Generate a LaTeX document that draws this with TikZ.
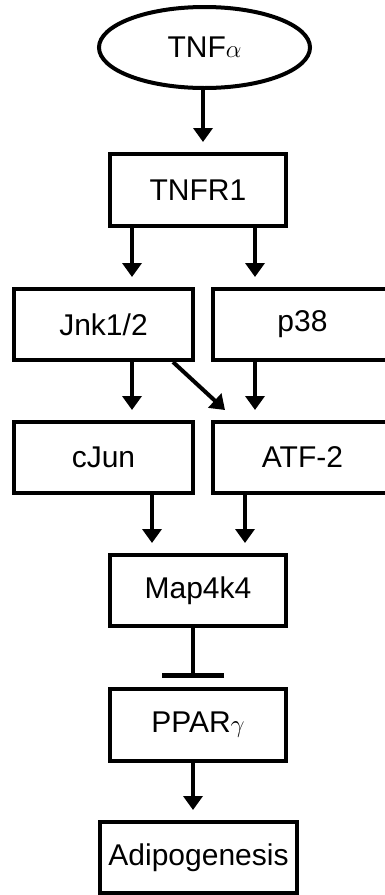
\documentclass[tikz,border=0pt]{standalone}
\usepackage{fontspec}
\setmainfont{Liberation Sans}
\usetikzlibrary{arrows.meta,shapes.geometric}
\begin{document}
\begin{tikzpicture}[x=1pt,y=-1pt,
  lbl/.style={font=\fontsize{30}{36}\selectfont},
  box/.style={draw, line width=4pt, minimum width=176pt, minimum height=72pt, inner sep=0pt, lbl},
  ell/.style={draw, ellipse, line width=4pt, minimum width=211pt, minimum height=81pt, inner sep=0pt, lbl},
  arr/.style={line width=4pt, -{Triangle[width=19pt,length=14pt]}, shorten >=10pt},
  inh/.style={line width=4pt, -{Bar[width=62pt,line width=5pt]}, shorten >=9pt}]
\useasboundingbox (0,0) rectangle (385,895);
\node[ell] (tnf) at (204.5,47.5) {TNF$\alpha$};
\node[box] (tnfr1) at (198,190) {TNFR1};
\node[box, minimum width=179pt, minimum height=71pt] (jnk) at (103.5,324.5) {Jnk1/2};
\node[box, minimum width=179pt, minimum height=71pt] (p38) at (302.5,324.5) {p38};
\node[box, minimum width=179pt, minimum height=71pt] (cjun) at (103.5,457.5) {cJun};
\node[box, minimum width=179pt, minimum height=71pt] (atf) at (302.5,457.5) {ATF-2};
\node[box, minimum height=71pt] (map) at (198,590.5) {Map4k4};
\node[box] (ppar) at (198,725) {PPAR$\gamma$};
\node[box, minimum width=197pt, minimum height=71pt] (adi) at (198.5,857.5) {Adipogenesis};
\coordinate (xa) at (203,0);
\coordinate (xb) at (132,0);
\coordinate (xc) at (255,0);
\coordinate (xd) at (173,0);
\coordinate (xe) at (152,0);
\coordinate (xf) at (245,0);
\coordinate (xg) at (193,0);
\coordinate (dtip) at (225,410);
\draw[arr] (tnf.south -| xa) -- (tnfr1.north -| xa);
\draw[arr] (tnfr1.south -| xb) -- (jnk.north -| xb);
\draw[arr] (tnfr1.south -| xc) -- (p38.north -| xc);
\draw[arr] (jnk.south -| xb) -- (cjun.north -| xb);
\draw[arr, shorten >=0pt] (jnk.south -| xd) -- (dtip);
\draw[arr] (p38.south -| xc) -- (atf.north -| xc);
\draw[arr] (cjun.south -| xe) -- (map.north -| xe);
\draw[arr] (atf.south -| xf) -- (map.north -| xf);
\draw[inh] (map.south -| xg) -- (ppar.north -| xg);
\draw[arr] (ppar.south -| xg) -- (adi.north -| xg);
\end{tikzpicture}
\end{document}
